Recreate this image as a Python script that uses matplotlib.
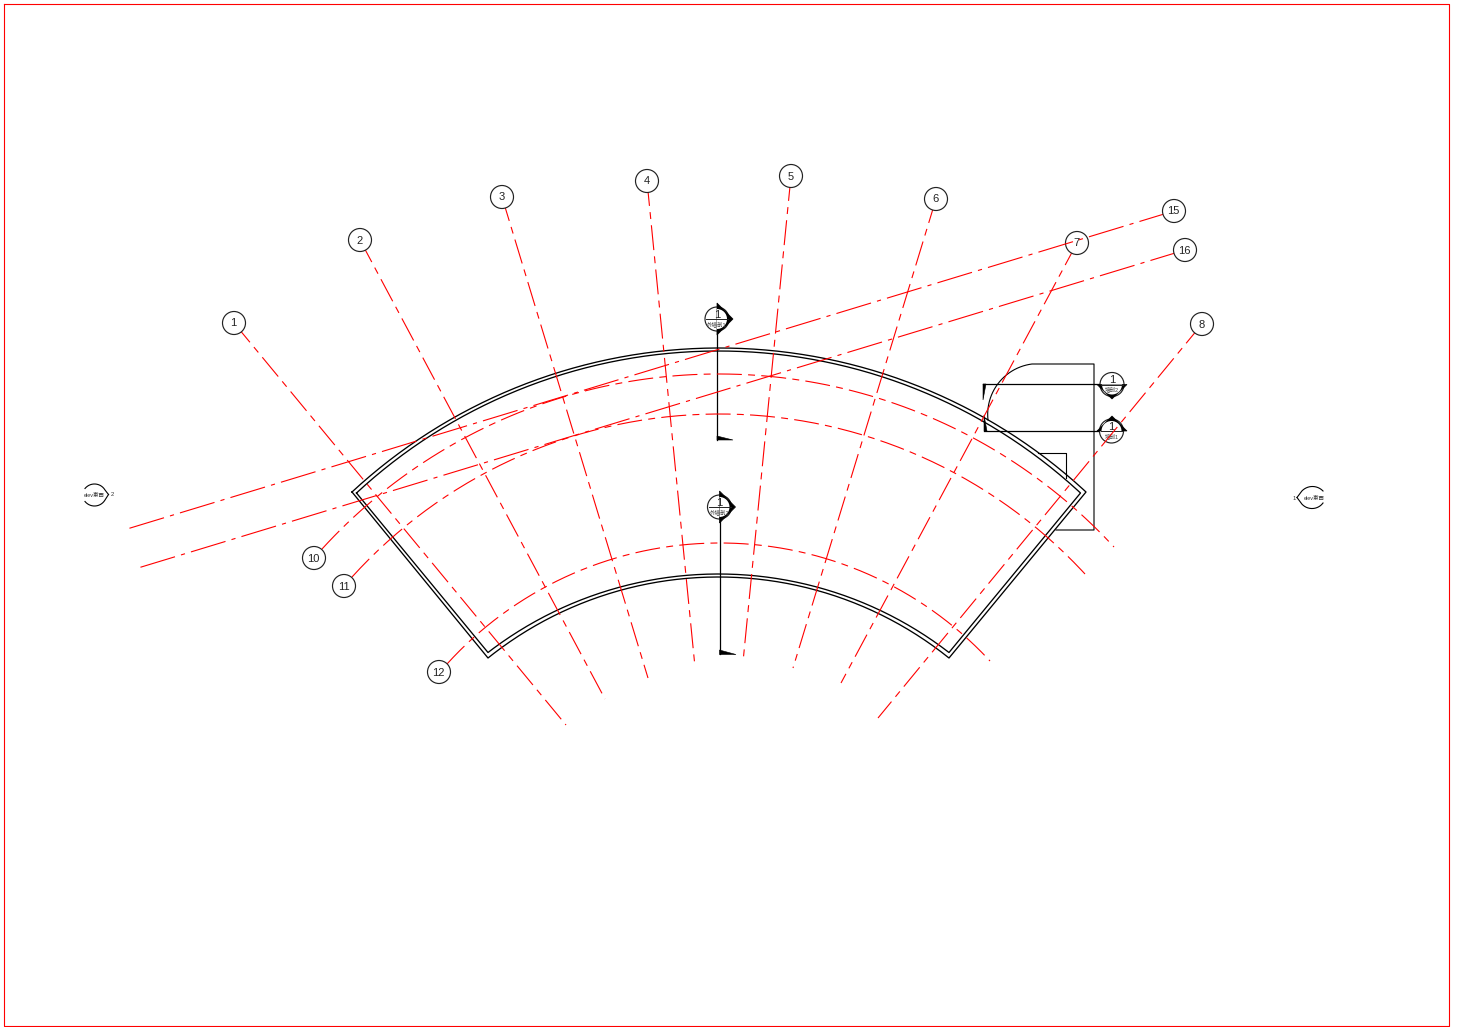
import numpy as np
import matplotlib
matplotlib.use('Agg')
import matplotlib.pyplot as plt
from matplotlib.patches import Circle, Polygon, Wedge

plt.rcParams['font.family'] = ['Liberation Sans', 'Noto Sans CJK SC', 'DejaVu Sans']
plt.rcParams['lines.scale_dashes'] = False

W, H = 1462, 1027
RED = '#ff0000'
DASH = (0, (18, 4.5, 5, 4.5))       # radial grids and curved grids
DASH_LONG = (0, (26, 4.5, 3, 4.5))  # grids 15 and 16

# straight grids: label, bubble centre, far end
grid_labels = ['1', '2', '3', '4', '5', '6', '7', '8', '15', '16']
grid_bubbles = [(234, 323), (360, 240), (502, 197), (647, 181), (791, 176),
                (936, 199), (1077, 243), (1202, 324), (1174, 211), (1185, 250)]
grid_ends = [(566, 725), (605, 699), (648, 678), (695, 667), (743, 662),
             (793, 668), (841, 683), (878, 718), (127, 529), (138, 568)]

# curved grids: label, bubble centre, start, middle, end
arc_labels = ['10', '11', '12']
arc_bubbles = [(314, 558), (344, 586), (439, 672)]
arc_starts = [(322, 549), (352, 577), (447, 664)]
arc_mids = [(722, 374), (722, 414), (722, 543)]
arc_ends = [(1114, 547), (1085, 574), (990, 661)]

# wall, outer and inner outline
wall_outer = [(352, 492), (719, 348), (1086, 492), (949, 658), (719, 577), (488, 658)]
wall_inner = [(356.5, 493), (719, 351), (1080.5, 493), (949, 652.5), (719, 574), (488, 652.5)]


def arc3(p0, pm, p1, n=200):
    # circle through three points
    ax_, ay_ = p0
    bx, by = pm
    cx, cy = p1
    d = 2 * (ax_ * (by - cy) + bx * (cy - ay_) + cx * (ay_ - by))
    ux = ((ax_**2 + ay_**2) * (by - cy) + (bx**2 + by**2) * (cy - ay_) + (cx**2 + cy**2) * (ay_ - by)) / d
    uy = ((ax_**2 + ay_**2) * (cx - bx) + (bx**2 + by**2) * (ax_ - cx) + (cx**2 + cy**2) * (bx - ax_)) / d
    r = np.hypot(ax_ - ux, ay_ - uy)
    a0 = np.arctan2(ay_ - uy, ax_ - ux)
    am = np.arctan2(by - uy, bx - ux)
    a1 = np.arctan2(cy - uy, cx - ux)
    a0, am, a1 = np.unwrap([a0, am, a1])
    if not (min(a0, a1) <= am <= max(a0, a1)):
        a1 = a1 - 2 * np.pi if a1 > a0 else a1 + 2 * np.pi
    t = np.linspace(a0, a1, n)
    return ux + r * np.cos(t), uy + r * np.sin(t)


def bubble(ax, xy, label, z=21):
    ax.add_patch(Circle(xy, 11.5, fc='white', ec='#222222', lw=0.85, zorder=z))
    ax.text(xy[0] - 0.5, xy[1] + 0.5, label, fontsize=8, color='#222222', ha='center', va='center', zorder=z + 0.1)


def draw_wall(ax, pts):
    a, b, c, d, e, f = pts
    x1, y1 = arc3(a, b, c)
    x2, y2 = arc3(d, e, f)
    ax.plot(list(x1) + list(x2) + [x1[0]], list(y1) + list(y2) + [y1[0]], color='black', lw=0.95, zorder=3)


def section_head(ax, c, tip, theta, text):
    # circle, black triangle over one half, white inner part on that half
    ax.add_patch(Circle(c, 12, fc='white', ec='#222222', lw=0.85, zorder=6))
    ax.add_patch(Polygon(tip, fc='black', ec='black', lw=0.5, zorder=7))
    ax.add_patch(Wedge(c, 10, theta[0], theta[1], fc='white', ec='none', zorder=8))
    ax.plot([c[0] - 11, c[0] + 11], [c[1], c[1]], color='#222222', lw=0.7, zorder=9)
    ax.text(c[0], c[1] - 4.5, '1', fontsize=8, color='#222222', ha='center', va='center', zorder=9)
    ax.text(c[0], c[1] + 5, text, fontsize=4, color='#444444', ha='center', va='center', zorder=9)


fig = plt.figure(figsize=(W / 100, H / 100), dpi=100)
ax = fig.add_axes([0, 0, 1, 1])
ax.set_xlim(0, W)
ax.set_ylim(H, 0)
ax.axis('off')

# sheet border
ax.plot([4, 1449, 1449, 4, 4], [4, 4, 1025.5, 1025.5, 4], color=RED, lw=0.8)

for lab, p, q in zip(grid_labels, grid_bubbles, grid_ends):
    # 15 and 16 run over bubble 7, the others stay under their bubble
    long_one = lab in ('15', '16')
    ax.plot([p[0], q[0]], [p[1], q[1]], color=RED, lw=0.8, ls=DASH_LONG if long_one else DASH,
            zorder=20 if long_one else 10)
for s, m, e in zip(arc_starts, arc_mids, arc_ends):
    x, y = arc3(s, m, e)
    ax.plot(x, y, color=RED, lw=0.8, ls=DASH, zorder=10)
for lab, p in zip(grid_labels, grid_bubbles):
    bubble(ax, p, lab, z=15 if lab == '7' else 21)
for lab, p in zip(arc_labels, arc_bubbles):
    bubble(ax, p, lab)

draw_wall(ax, wall_outer)
draw_wall(ax, wall_inner)

# room outline on the right side
x, y = arc3((988, 420), (1003, 378), (1032, 364))
ax.plot(list(x) + [1094, 1094, 1056], list(y) + [364, 530, 530], color='black', lw=0.8, zorder=3)
ax.plot([1038, 1066, 1066], [453, 453, 478], color='black', lw=0.8, zorder=3)

# vertical section marks
ax.plot([717, 717], [319, 439.5], color='black', lw=0.9, zorder=4)
ax.add_patch(Polygon([(717, 440), (717, 436), (733, 440)], fc='black', ec='black', lw=0.4))
section_head(ax, (717, 319), [(717, 303), (733, 319), (717, 335)], (-90, 90), '外墙剖1')
ax.plot([719.5, 719.5], [507, 654], color='black', lw=0.9, zorder=4)
ax.add_patch(Polygon([(719.5, 654.5), (719.5, 650), (736, 654.5)], fc='black', ec='black', lw=0.4))
section_head(ax, (719.5, 507), [(719.5, 491), (735.5, 507), (719.5, 523)], (-90, 90), '外墙剖2')

# horizontal section marks
ax.plot([983, 1112], [384, 384], color='black', lw=0.9, zorder=4)
ax.add_patch(Polygon([(983, 384), (986, 384), (983, 400)], fc='black', ec='black', lw=0.4))
section_head(ax, (1112, 384.5), [(1097, 384.5), (1127, 384.5), (1112, 399)], (0, 180), '墙剖2')
ax.plot([984, 1112], [431, 431], color='black', lw=0.9, zorder=4)
ax.add_patch(Polygon([(984, 431), (987, 431), (984, 415)], fc='black', ec='black', lw=0.4))
section_head(ax, (1111.5, 431), [(1097, 431), (1127, 431), (1112, 416)], (180, 360), '墙剖1')

# elevation marks
x, y = arc3((85, 488.5), (95, 484), (105, 490))
ax.plot(list(x) + [108.5], list(y) + [494.5], color='black', lw=0.8)
x, y = arc3((85, 501.5), (95, 506), (105, 500))
ax.plot(list(x) + [108.5], list(y) + [494.5], color='black', lw=0.8)
ax.text(94.5, 495.5, 'elev東西', fontsize=3.9, color='#333333', ha='center', va='center')
ax.text(112, 494.5, '2', fontsize=4.2, color='#333333', ha='center', va='center')

x, y = arc3((1301, 492), (1313, 486.5), (1323, 491))
ax.plot([1297] + list(x), [497.5] + list(y), color='black', lw=0.8)
x, y = arc3((1301, 503), (1313, 508.5), (1323, 503))
ax.plot([1297] + list(x), [497.5] + list(y), color='black', lw=0.8)
ax.text(1314, 498, 'elev東西', fontsize=3.9, color='#333333', ha='center', va='center')
ax.text(1294, 498, '1', fontsize=4.2, color='#333333', ha='center', va='center')

fig.savefig('out.png', dpi=100)
